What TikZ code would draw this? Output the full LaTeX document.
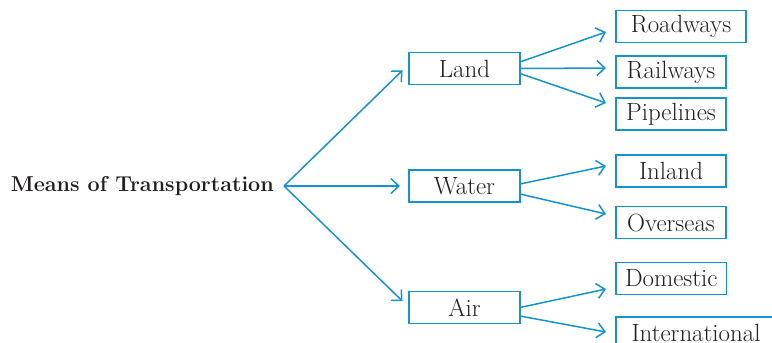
\documentclass[tikz,border=0pt]{standalone}
\usepackage{fontspec}
\usetikzlibrary{arrows.meta}
\definecolor{linkblue}{RGB}{18,148,212}
\definecolor{inktext}{RGB}{35,31,32}
\begin{document}
\begin{tikzpicture}[x=1bp, y=-1bp,
		box/.style={draw=linkblue, line width=1.6bp, outer sep=0, inner xsep=9bp, inner ysep=0, minimum height=32bp, text=inktext, font=\fontsize{25}{28}\selectfont},
		mid/.style={box, minimum width=111bp},
		leaf/.style={box, minimum width=110bp, anchor=west},
		arr/.style={draw=linkblue, line width=1.5bp, -{Straight Barb[length=8bp, width=15bp, line width=1.5bp]}}]
		\useasboundingbox (0,0) rectangle (772,342);
		\node [anchor=east, inner sep=0, text=inktext, font=\bfseries\fontsize{21.6}{25}\selectfont] (means) at (274,186) {Means of Transportation};
		\coordinate (hub) at (284,186);
		\node [mid] (land) at (464.5,68.5) {Land};
		\node [mid] (water) at (464.5,186) {Water};
		\node [mid] (air) at (464.5,307.5) {Air};
		\node [leaf, minimum width=130bp] (road) at (616,26.5) {Roadways};
		\node [leaf] (rail) at (616,72) {Railways};
		\node [leaf] (pipe) at (616,114) {Pipelines};
		\node [leaf] (inland) at (616,171) {Inland};
		\node [leaf] (over) at (616,222.5) {Overseas};
		\node [leaf] (dom) at (616,278.5) {Domestic};
		\node [leaf, minimum width=160bp] (intl) at (616,333) {International};
		% from the title
		\draw [arr, shorten >=9bp] (hub) -- ([yshift=4.5bp]land.west);
		\draw [arr, shorten >=9bp] (hub) -- (water.west);
		\draw [arr, shorten >=9bp] (hub) -- (air.west);
		% land
		\draw [arr] ([yshift=6.5bp]land.east) -- ([xshift=-10bp,yshift=-5.5bp]road.west);
		\draw [arr] (land.east) -- ([xshift=-10bp,yshift=4bp]rail.west);
		\draw [arr] ([yshift=-5bp]land.east) -- ([xshift=-10bp,yshift=11bp]pipe.west);
		% water
		\draw [arr] ([yshift=2bp]water.east) -- ([xshift=-10bp,yshift=5bp]inland.west);
		\draw [arr] ([yshift=-8bp]water.east) -- ([xshift=-10bp,yshift=8.5bp]over.west);
		% air
		\draw [arr] (air.east) -- ([xshift=-10bp,yshift=-10.5bp]dom.west);
		\draw [arr] ([yshift=-8.5bp]air.east) -- ([xshift=-10bp,yshift=1bp]intl.west);
\end{tikzpicture}
\end{document}
